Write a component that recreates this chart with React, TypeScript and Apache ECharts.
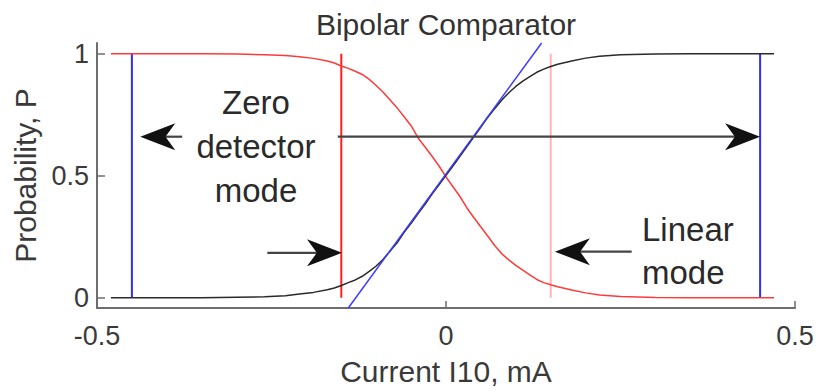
import React, { useEffect, useRef } from "react";
import * as echarts from "echarts";

// ---- data ----
const curveX = [-0.48, -0.4, -0.35, -0.3, -0.26, -0.23, -0.21, -0.19, -0.17, -0.16, -0.15, -0.14, -0.13, -0.12, -0.11, -0.1, -0.09, -0.08, -0.07, -0.06, -0.05, -0.04, -0.03, -0.02, -0.01, 0, 0.01, 0.02, 0.03, 0.04, 0.05, 0.06, 0.07, 0.08, 0.09, 0.1, 0.11, 0.12, 0.13, 0.14, 0.15, 0.16, 0.18, 0.2, 0.22, 0.25, 0.3, 0.35, 0.47];
const blackP = [0, 0, 0, 0.002, 0.004, 0.008, 0.015, 0.022, 0.033, 0.04, 0.05, 0.062, 0.073, 0.088, 0.108, 0.13, 0.158, 0.192, 0.225, 0.268, 0.305, 0.345, 0.383, 0.425, 0.463, 0.502, 0.54, 0.58, 0.62, 0.66, 0.7, 0.74, 0.776, 0.81, 0.84, 0.866, 0.888, 0.906, 0.924, 0.937, 0.948, 0.957, 0.97, 0.982, 0.99, 0.996, 0.999, 1, 1];
const redP = [1, 1, 1, 0.999, 0.996, 0.993, 0.988, 0.981, 0.97, 0.962, 0.95, 0.94, 0.928, 0.915, 0.895, 0.87, 0.842, 0.81, 0.778, 0.742, 0.705, 0.655, 0.618, 0.58, 0.54, 0.495, 0.455, 0.415, 0.368, 0.328, 0.29, 0.252, 0.213, 0.18, 0.155, 0.133, 0.113, 0.094, 0.075, 0.062, 0.053, 0.045, 0.032, 0.02, 0.011, 0.005, 0.001, 0, 0];
const fitX = [-0.14, 0.137];
const fitP = [-0.042, 1.044];
const blueMarkersX = [-0.45, 0.45];
const redMarkerX = [-0.15];
const pinkMarkerX = [0.15];
// arrows: [fromX, toX, y]
const arrowFromX = [-0.155, -0.378, -0.256, 0.266];
const arrowToX = [0.45, -0.438, -0.149, 0.156];
const arrowY = [0.66, 0.66, 0.184, 0.189];
const xTicks = [-0.5, 0, 0.5];
const yTicks = [0, 0.5, 1];

const FONT = "Liberation Sans, Arial, sans-serif";

function vline(x: number, color: string, width: number) {
  return {
    type: "line",
    data: [[x, 0], [x, 1]],
    showSymbol: false,
    symbol: "none",
    lineStyle: { color, width },
    z: 2,
  };
}

export default function App() {
  const ref = useRef<HTMLDivElement>(null);
  useEffect(() => {
    if (!ref.current) return;
    const chart = echarts.init(ref.current, null, { renderer: "svg" });
    const axisColor = "#6e6e6e";
    const option: any = {
      animation: false,
      backgroundColor: "#ffffff",
      grid: { left: 97, top: 43, width: 698, height: 265, containLabel: false },
      xAxis: {
        type: "value",
        min: -0.5,
        max: 0.5,
        interval: 0.5,
        name: "Current I10, mA",
        nameLocation: "middle",
        nameGap: 48,
        nameTextStyle: { fontFamily: FONT, fontSize: 30, color: "#3a3a3a" },
        axisLine: { show: true, onZero: false, lineStyle: { color: axisColor, width: 2 } },
        axisTick: { show: true, inside: true, length: 7, customValues: xTicks, lineStyle: { color: axisColor, width: 1.5 } },
        axisLabel: { customValues: xTicks, margin: 14, fontFamily: FONT, fontSize: 27, color: "#3a3a3a", formatter: (v: number) => String(v) },
        splitLine: { show: false },
      },
      yAxis: {
        type: "value",
        min: -0.042,
        max: 1.044,
        name: "Probability, P",
        nameLocation: "middle",
        nameGap: 48,
        nameRotate: 90,
        nameTextStyle: { fontFamily: FONT, fontSize: 30, color: "#3a3a3a" },
        axisLine: { show: true, onZero: false, lineStyle: { color: axisColor, width: 2 } },
        axisTick: { show: true, inside: true, length: 8, customValues: yTicks, lineStyle: { color: axisColor, width: 1.5 } },
        axisLabel: { customValues: yTicks, margin: 8, fontFamily: FONT, fontSize: 27, color: "#3a3a3a", formatter: (v: number) => String(v) },
        splitLine: { show: false },
      },
      series: [
        ...blueMarkersX.map((x) => vline(x, "#2e2eff", 2)),
        ...redMarkerX.map((x) => vline(x, "#ff1e1e", 2)),
        ...pinkMarkerX.map((x) => vline(x, "#ffb4b4", 2)),
        {
          type: "line",
          data: curveX.map((x, i) => [x, redP[i]]),
          showSymbol: false,
          symbol: "none",
          lineStyle: { color: "#ff3a3a", width: 1.5 },
          z: 3,
        },
        {
          type: "line",
          data: curveX.map((x, i) => [x, blackP[i]]),
          showSymbol: false,
          symbol: "none",
          lineStyle: { color: "#2a2a2a", width: 1.5 },
          z: 3,
        },
        {
          type: "line",
          data: fitX.map((x, i) => [x, fitP[i]]),
          showSymbol: false,
          symbol: "none",
          clip: false,
          lineStyle: { color: "#3c3cff", width: 1.5 },
          z: 4,
        },
        {
          type: "custom",
          clip: false,
          z: 5,
          data: arrowFromX.map((x, i) => [x, arrowToX[i], arrowY[i]]),
          encode: { x: [0, 1], y: 2 },
          renderItem: (params: any, api: any) => {
            const x0 = api.value(0);
            const x1 = api.value(1);
            const y = api.value(2);
            const p0 = api.coord([x0, y]);
            const p1 = api.coord([x1, y]);
            const dir = p1[0] > p0[0] ? 1 : -1;
            const L = 35;
            const W = 27;
            const tx = p1[0];
            const ty = p1[1];
            return {
              type: "group",
              children: [
                {
                  type: "line",
                  shape: { x1: p0[0], y1: p0[1], x2: tx - dir * L * 0.7, y2: ty },
                  style: { stroke: "#444444", lineWidth: 2.2 },
                },
                {
                  type: "polygon",
                  shape: {
                    points: [
                      [tx, ty],
                      [tx - dir * L, ty - W / 2],
                      [tx - dir * L * 0.72, ty],
                      [tx - dir * L, ty + W / 2],
                    ],
                  },
                  style: { fill: "#111111" },
                },
              ],
            };
          },
        },
      ],
      graphic: [
        {
          type: "text",
          x: 446,
          y: 24,
          style: { text: "Bipolar Comparator", fontFamily: FONT, fontSize: 30, fill: "#333333", textAlign: "center", textVerticalAlign: "middle" },
        },
        {
          type: "text",
          x: 256,
          y: 146,
          style: { text: "Zero\ndetector\nmode", fontFamily: FONT, fontSize: 33, lineHeight: 44, fill: "#2a2a2a", textAlign: "center", textVerticalAlign: "middle" },
        },
        {
          type: "text",
          x: 642,
          y: 251,
          style: { text: "Linear\nmode", fontFamily: FONT, fontSize: 33, lineHeight: 43, fill: "#2a2a2a", textAlign: "left", textVerticalAlign: "middle" },
        },
      ],
    };
    chart.setOption(option);
    return () => chart.dispose();
  }, []);
  return <div ref={ref} style={{ position: "fixed", left: 0, top: 0, width: 818, height: 392 }} />;
}
